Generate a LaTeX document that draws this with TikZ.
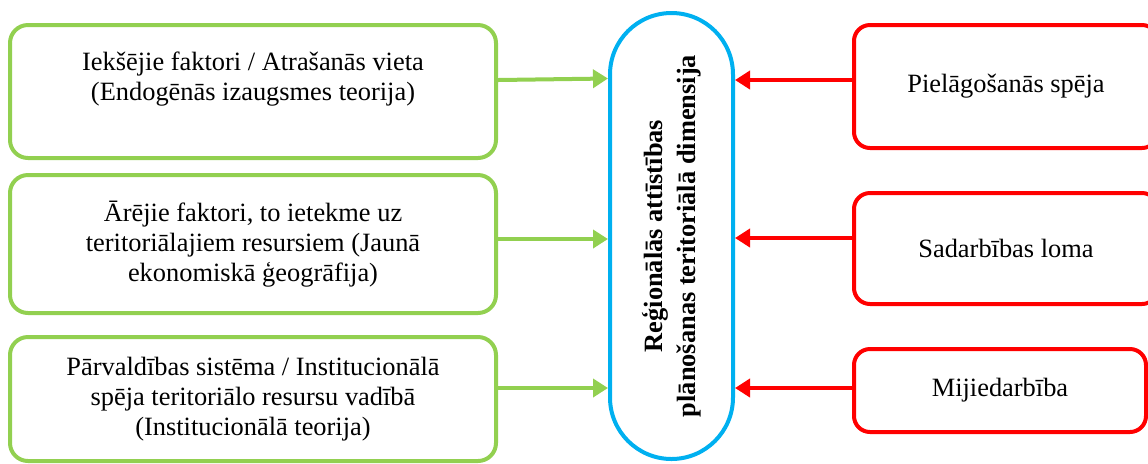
\documentclass[tikz,border=0pt]{standalone}
\usepackage{fontspec}
\setmainfont{Liberation Serif}
\newfontfamily\boxfont{Liberation Serif}
\usetikzlibrary{arrows.meta, positioning}

\definecolor{boxgreen}{RGB}{146,208,80}
\definecolor{boxred}{RGB}{255,0,0}
\definecolor{boxblue}{RGB}{0,176,240}

\begin{document}
\begin{tikzpicture}[x=0.5pt, y=-0.5pt, >={Triangle[length=7.5pt, width=9pt]},
  greenbox/.style={draw=boxgreen, line width=2pt, rounded corners=9pt, align=center,
    inner sep=0pt, minimum width=243pt, font=\boxfont\fontsize{13.2}{15}\selectfont},
  redbox/.style={draw=boxred, line width=2pt, rounded corners=8pt, align=center,
    inner sep=0pt, font=\boxfont\fontsize{13.2}{15}\selectfont},
  dimbox/.style={draw=boxblue, line width=2pt, rounded corners=30.75pt,
    minimum width=61.5pt, minimum height=223pt, inner sep=0pt},
  dimtext/.style={align=center, font=\boxfont\fontsize{13.2}{16.5}\selectfont\bfseries},
  garrow/.style={->, draw=boxgreen, line width=2pt},
  rarrow/.style={->, draw=boxred, line width=2pt}]

\useasboundingbox (0,0) rectangle (1148,463);

% Central dimension
\node[dimbox] (dim) at (671.5,236) {};
\node[dimtext, rotate=90] (dimlbl) at (dim.center)
  {Reģionālās attīstības\\plānošanas teritoriālā dimensija};

% Left: factors
\node[greenbox, minimum height=66.5pt] (g1) at (253,91.5)
  {Iekšējie faktori / Atrašanās vieta\\(Endogēnās izaugsmes teorija)\\\mbox{}};
\node[greenbox, minimum height=69pt] (g2) at (253,244)
  {Ārējie faktori, to ietekme uz\\teritoriālajiem resursiem (Jaunā\\ekonomiskā ģeogrāfija)};
\node[greenbox, minimum height=62pt] (g3) at (253,399)
  {Pārvaldības sistēma / Institucionālā\\spēja teritoriālo resursu vadībā\\(Institucionālā teorija)};

% Right: abilities
\node[redbox, minimum width=152pt, minimum height=61.5pt] (r1) at (1006,86.5)
  {Pielāgošanās spēja};
\node[redbox, minimum width=152pt, minimum height=55.5pt] (r2) at (1006,248.5)
  {Sadarbības loma};
\node[redbox, minimum width=146pt, minimum height=41.5pt] (r3) at (1000,390.5)
  {Mijiedarbība};

% Arrows into the centre
\draw[garrow] ([yshift=5.75pt]g1.east) -- ([yshift=6.5pt]g1.east -| dim.west);
\draw[garrow] ([yshift=2.5pt]g2.east) -- ([yshift=2.5pt]g2.east -| dim.west);
\draw[garrow] ([yshift=5.5pt]g3.east) -- ([yshift=5.5pt]g3.east -| dim.west);

\draw[rarrow] ([yshift=3.25pt]r1.west) -- ([yshift=3.25pt]r1.west -| dim.east);
\draw[rarrow] ([yshift=5.25pt]r2.west) -- ([yshift=5.25pt]r2.west -| dim.east);
\draw[rarrow] ([yshift=1.25pt]r3.west) -- ([yshift=1.25pt]r3.west -| dim.east);

\end{tikzpicture}
\end{document}
